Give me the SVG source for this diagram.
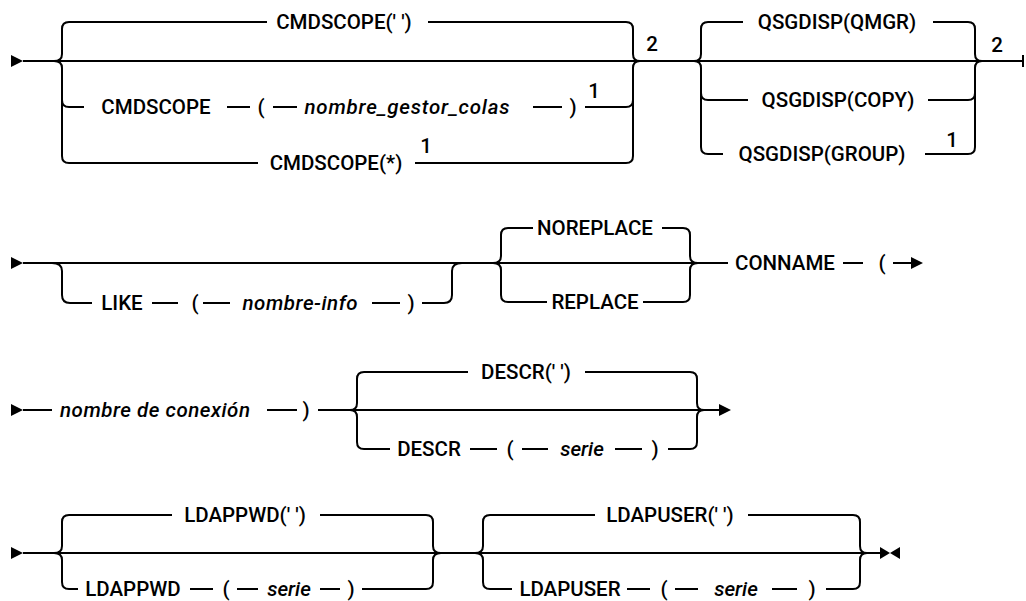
<svg xmlns="http://www.w3.org/2000/svg" width="1026" height="601" viewBox="0 0 1026 601">
<style>
.r{fill:none;stroke:#000;stroke-width:2}
.t{font-family:Roboto,"Liberation Sans",sans-serif;font-size:20.5px;font-weight:500;fill:#000;text-anchor:middle}
.i{font-family:Roboto,"Liberation Sans",sans-serif;font-size:20.5px;font-weight:500;font-style:italic;fill:#000;text-anchor:middle}
.a{fill:#000}
</style>
<rect width="1026" height="601" fill="#fff"/>
<g id="connectors">
<!-- row 1 -->
<polygon class="a" points="11,55 23,61 11,67"/>
<path class="r" d="M23,61 H1023 M1023,55 V67"/>
<path class="r" d="M54,61 Q62,61 62,54 V29 Q62,22 69,22 H267 M428,22 H626 Q633,22 633,29 V54 Q633,61 640,61"/>
<path class="r" d="M54,61 Q62,61 62,68 V156 Q62,163 69,163 H258 M415,163 H626 Q633,163 633,156 V68 Q633,61 640,61"/>
<path class="r" d="M62,100 Q62,107 69,107 H84 M227,107 H250 M273,107 H297 M533,107 H562 M585,107 H626 Q633,107 633,100"/>
<path class="r" d="M694,61 Q701,61 701,54 V29 Q701,22 708,22 H743 M933,22 H968 Q975,22 975,29 V54 Q975,61 982,61"/>
<path class="r" d="M694,61 Q701,61 701,68 V147 Q701,154 708,154 H723 M925,154 H968 Q975,154 975,147 V68 Q975,61 982,61"/>
<path class="r" d="M701,93 Q701,100 708,100 H748 M928,100 H968 Q975,100 975,93"/>
<!-- row 2 -->
<polygon class="a" points="11,257 23,263 11,269"/>
<path class="r" d="M23,263 H728 M843,263 H863 M893,263 H912"/>
<polygon class="a" points="911,257 923,263 911,269"/>
<path class="r" d="M52,263 Q62,263 62,271 V295 Q62,303 70,303 H92 M152,303 H178 M203,303 H230 M372,303 H400 M422,303 H444 Q452,303 452,295 V271 Q452,263 462,263"/>
<path class="r" d="M493,263 Q501,263 501,256 V235 Q501,228 508,228 H533 M662,228 H683 Q690,228 690,235 V256 Q690,263 698,263"/>
<path class="r" d="M493,263 Q501,263 501,270 V295 Q501,302 508,302 H547 M643,302 H683 Q690,302 690,295 V270 Q690,263 698,263"/>
<!-- row 3 -->
<polygon class="a" points="11,404 23,410 11,416"/>
<path class="r" d="M23,410 H52 M267,410 H297 M318,410 H719"/>
<polygon class="a" points="719,404 731,410 719,416"/>
<path class="r" d="M350,410 Q357,410 357,403 V379 Q357,372 364,372 H468 M585,372 H690 Q697,372 697,379 V403 Q697,410 704,410"/>
<path class="r" d="M350,410 Q357,410 357,417 V442 Q357,449 364,449 H390 M470,449 H497 M522,449 H548 M615,449 H642 M668,449 H690 Q697,449 697,442 V417 Q697,410 704,410"/>
<!-- row 4 -->
<polygon class="a" points="11,547 23,553 11,559"/>
<path class="r" d="M23,553 H880"/>
<path class="r" d="M54,553 Q62,553 62,546 V522 Q62,515 69,515 H172 M320,515 H426 Q433,515 433,522 V546 Q433,553 441,553"/>
<path class="r" d="M54,553 Q62,553 62,560 V582 Q62,589 69,589 H78 M190,589 H213 M237,589 H258 M320,589 H340 M362,589 H426 Q433,589 433,582 V560 Q433,553 441,553"/>
<path class="r" d="M475,553 Q483,553 483,546 V522 Q483,515 490,515 H595 M748,515 H853 Q860,515 860,522 V546 Q860,553 867,553"/>
<path class="r" d="M475,553 Q483,553 483,560 V582 Q483,589 490,589 H512 M627,589 H650 M675,589 H698 M772,589 H797 M826,589 H853 Q860,589 860,582 V560 Q860,553 867,553"/>
<polygon class="a" points="880,547 890,553 880,559"/>
<polygon class="a" points="900,547 890,553 900,559"/>
</g>
<!-- row 1 nodes -->
<g id="cmdscope-blank"><text class="t" x="344" y="29">CMDSCOPE(' ')</text></g>
<g id="cmdscope-qmgr"><text class="t" x="156" y="114">CMDSCOPE</text><text class="t" x="261" y="114">(</text><text class="i" x="407" y="114" textLength="205" lengthAdjust="spacing">nombre_gestor_colas</text><text class="t" x="573" y="114">)</text><text class="t" x="594" y="98">1</text></g>
<g id="cmdscope-all"><text class="t" x="336" y="170">CMDSCOPE(*)</text><text class="t" x="426" y="153">1</text></g>
<g id="note-2a"><text class="t" x="652" y="51">2</text></g>
<g id="qsgdisp-qmgr"><text class="t" x="837" y="29">QSGDISP(QMGR)</text></g>
<g id="qsgdisp-copy"><text class="t" x="838" y="107">QSGDISP(COPY)</text></g>
<g id="qsgdisp-group"><text class="t" x="822" y="161">QSGDISP(GROUP)</text><text class="t" x="952" y="147">1</text></g>
<g id="note-2b"><text class="t" x="997" y="52">2</text></g>
<!-- row 2 nodes -->
<g id="like"><text class="t" x="122" y="310">LIKE</text><text class="t" x="195" y="310">(</text><text class="i" x="300" y="310" textLength="115" lengthAdjust="spacing">nombre-info</text><text class="t" x="411" y="310">)</text></g>
<g id="noreplace"><text class="t" x="595" y="235">NOREPLACE</text></g>
<g id="replace"><text class="t" x="595" y="309">REPLACE</text></g>
<g id="conname"><text class="t" x="785" y="270">CONNAME</text><text class="t" x="882" y="270">(</text></g>
<!-- row 3 nodes -->
<g id="connection-name"><text class="i" x="155" y="417" textLength="190" lengthAdjust="spacing">nombre de conexión</text><text class="t" x="306" y="417">)</text></g>
<g id="descr-blank"><text class="t" x="526" y="379">DESCR(' ')</text></g>
<g id="descr-string"><text class="t" x="429" y="456">DESCR</text><text class="t" x="510" y="456">(</text><text class="i" x="582" y="456">serie</text><text class="t" x="655" y="456">)</text></g>
<!-- row 4 nodes -->
<g id="ldappwd-blank"><text class="t" x="245" y="522">LDAPPWD(' ')</text></g>
<g id="ldappwd-string"><text class="t" x="133" y="596">LDAPPWD</text><text class="t" x="226" y="596">(</text><text class="i" x="289" y="596">serie</text><text class="t" x="351" y="596">)</text></g>
<g id="ldapuser-blank"><text class="t" x="670" y="522">LDAPUSER(' ')</text></g>
<g id="ldapuser-string"><text class="t" x="570" y="596">LDAPUSER</text><text class="t" x="664" y="596">(</text><text class="i" x="736" y="596">serie</text><text class="t" x="812" y="596">)</text></g>
</svg>
